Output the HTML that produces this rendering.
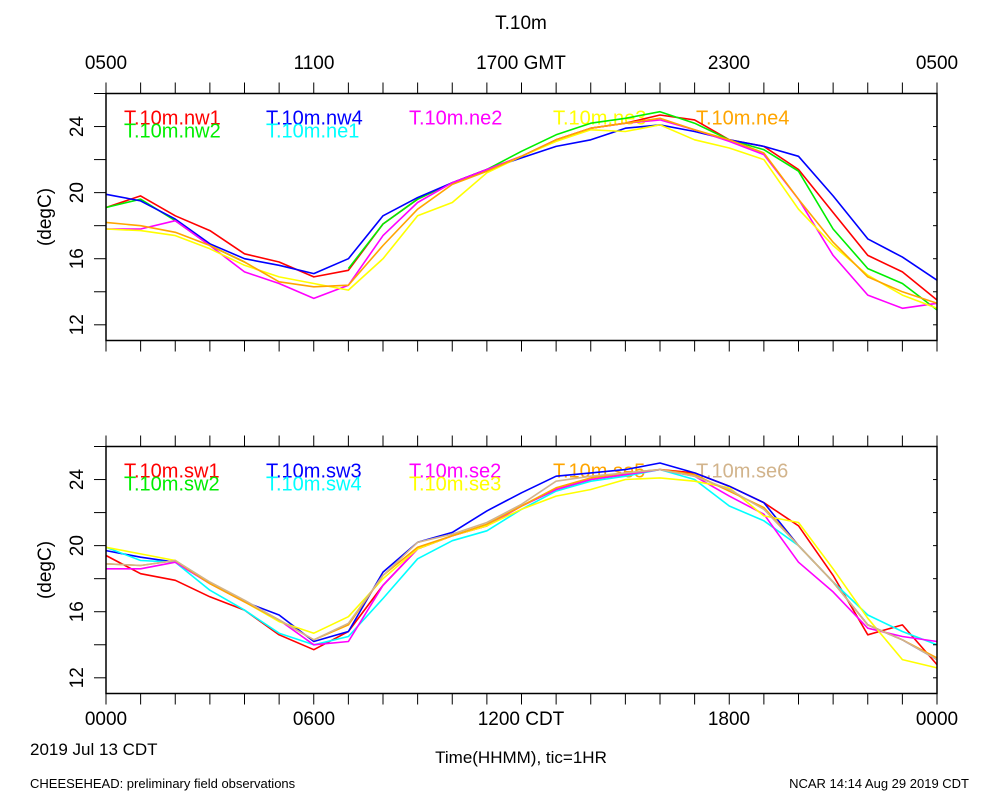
<!DOCTYPE html>
<html><head><meta charset="utf-8"><style>
body{margin:0;background:#fff;}
svg{display:block;font-family:"Liberation Sans",sans-serif;}
</style></head><body>
<svg id="chart" width="1000" height="800">
<text x="521" y="29" font-size="19" text-anchor="middle">T.10m</text>
<g font-size="19" text-anchor="middle">
<text x="106" y="69">0500</text><text x="314" y="69">1100</text><text x="521" y="69">1700 GMT</text><text x="729" y="69">2300</text><text x="937" y="69">0500</text>
</g>
<g font-size="19" text-anchor="middle">
<text x="106" y="725">0000</text><text x="314" y="725">0600</text><text x="521" y="725">1200 CDT</text><text x="729" y="725">1800</text><text x="937" y="725">0000</text>
</g>
<text x="30" y="755" font-size="17">2019 Jul 13 CDT</text>
<text x="521" y="763" font-size="17" text-anchor="middle">Time(HHMM), tic=1HR</text>
<text x="30" y="788" font-size="13">CHEESEHEAD: preliminary field observations</text>
<text x="969" y="788" font-size="13" text-anchor="end">NCAR 14:14 Aug 29 2019 CDT</text>
</svg>
<script>
const hours=[0,1,2,3,4,5,6,7,8,9,10,11,12,13,14,15,16,17,18,19,20,21,22,23,24];
const yTicks=[12,16,20,24];
const topNames=["T.10m.nw1","T.10m.nw2","T.10m.nw4","T.10m.ne1","T.10m.ne2","T.10m.ne3","T.10m.ne4"];
const topLegendSlots=[[0,0],[0,1],[1,0],[1,1],[2,0],[3,0],[4,0]];
const nw1=[19.1,19.8,18.6,17.7,16.3,15.8,14.9,15.3,18.1,19.6,20.6,21.4,22.2,23.2,23.9,24.2,24.7,24.4,23.2,22.8,21.4,18.8,16.2,15.2,13.5];
const nw2=[19.1,19.6,18.3,16.8,15.8,null,null,15.4,18.1,19.6,20.6,21.4,22.5,23.5,24.2,24.5,24.9,24.2,23.2,22.6,21.3,17.8,15.4,14.5,12.9];
const nw4=[19.9,19.5,18.4,16.9,16.0,15.6,15.1,16.0,18.6,19.7,20.6,21.4,22.1,22.8,23.2,23.9,24.1,23.7,23.2,22.8,22.2,19.8,17.2,16.1,14.7];
const ne1=[];
const ne2=[17.8,17.8,18.3,16.8,15.2,14.5,13.6,14.4,17.4,19.4,20.6,21.4,22.2,23.2,23.9,24.2,24.4,23.8,23.1,22.3,19.6,16.2,13.8,13.0,13.3];
const ne3=[17.8,17.7,17.4,16.6,15.6,14.9,14.5,14.1,16.0,18.6,19.4,21.2,22.2,23.1,23.8,23.7,24.1,23.2,22.7,22.0,19.0,16.8,15.0,13.8,13.0];
const ne4=[18.2,18.0,17.6,16.8,15.8,14.6,14.3,14.4,16.8,19.0,20.5,21.3,22.2,23.2,23.9,24.2,24.5,23.8,23.2,22.4,19.6,17.0,14.9,14.0,13.3];
const botNames=["T.10m.sw1","T.10m.sw2","T.10m.sw3","T.10m.sw4","T.10m.se2","T.10m.se3","T.10m.se5","T.10m.se6"];
const botLegendSlots=[[0,0],[0,1],[1,0],[1,1],[2,0],[2,1],[3,0],[4,0]];
const sw1=[19.4,18.3,17.9,16.9,16.1,14.6,13.7,14.8,17.6,19.8,20.6,21.2,22.4,23.4,24.0,24.3,24.6,24.4,23.6,22.6,21.2,18.2,14.6,15.2,12.8];
const sw2=[];
const sw3=[19.7,19.3,19.0,17.7,16.6,15.8,14.2,14.8,18.4,20.2,20.8,22.1,23.2,24.2,24.4,24.6,25.0,24.4,23.6,22.6,20.0,17.8,15.2,14.3,13.1];
const sw4=[19.9,19.1,19.0,17.3,16.1,14.7,14.0,14.5,16.8,19.2,20.3,20.9,22.2,23.3,23.9,24.2,24.6,24.0,22.4,21.5,20.0,17.8,15.8,14.8,14.0];
const se2=[18.6,18.6,19.0,17.7,16.6,15.5,14.0,14.2,17.6,19.8,20.6,21.2,22.4,23.4,24.0,24.3,24.6,24.2,23.0,21.9,19.0,17.2,15.0,14.5,14.2];
const se3=[19.9,19.5,19.1,17.7,16.6,15.4,14.7,15.7,18.0,19.8,20.6,21.2,22.2,23.0,23.4,24.0,24.1,23.9,23.5,21.8,21.4,18.6,15.6,13.1,12.6];
const se5=[18.9,18.8,19.1,17.7,16.6,15.5,14.3,15.2,18.2,19.9,20.6,21.3,22.4,23.5,24.1,24.4,24.6,24.3,23.3,22.3,20.0,17.8,15.2,14.3,13.2];
const se6=[18.9,18.8,19.1,17.8,16.7,15.5,14.3,15.3,18.2,20.2,20.7,21.4,22.5,23.9,24.2,24.4,24.6,24.2,23.4,22.2,20.0,17.8,15.2,14.3,13.1];

const NS="http://www.w3.org/2000/svg";
const svg=document.getElementById('chart');
const X0=106,X1=937,YMIN=11.05,YMAX=26.0;
function mk(tag,attrs,parent){const e=document.createElementNS(NS,tag);for(const k in attrs)e.setAttribute(k,attrs[k]);(parent||svg).appendChild(e);return e;}
function xs(h){return X0+(X1-X0)*h/24;}

function panel(top,bottom,key,names,slots,series,colors){
  const ys=v=>bottom-(bottom-top)*(v-YMIN)/(YMAX-YMIN);
  const g=mk('g',{});
  
  
  const cols=[124,266,409,553,696];
  names.forEach((n,i)=>{
    const t=mk('text',{x:cols[slots[i][0]],y:top+31+slots[i][1]*13,'font-size':20,fill:colors[i]},g);
    t.textContent=n;
    
    
  });
  series.forEach((s,i)=>{
    let d='',pen=false;
    s.forEach((v,j)=>{
      if(v===null||v===undefined){pen=false;return;}
      d+=(pen?'L':'M')+xs(hours[j]).toFixed(1)+' '+ys(v).toFixed(1);pen=true;
    });
    if(!d)return;
    const p=mk('path',{d:d,fill:'none',stroke:colors[i],'stroke-width':1.6,'stroke-linejoin':'round'},g);
    
    
  });
  const r=mk('rect',{x:X0,y:top,width:X1-X0,height:bottom-top,fill:'none',stroke:'#000','stroke-width':1.5},g);
  
  
  for(let h=0;h<=24;h++){
    const x=xs(h);
    mk('line',{x1:x,x2:x,y1:bottom,y2:bottom+11,stroke:'#000','stroke-width':1},g);
    mk('line',{x1:x,x2:x,y1:top,y2:top-11,stroke:'#000','stroke-width':1},g);
  }
  for(let v=12;v<=26;v+=2){
    const y=ys(v);
    mk('line',{x1:X0-12,x2:X0,y1:y,y2:y,stroke:'#000','stroke-width':1},g);
    mk('line',{x1:X1-4,x2:X1,y1:y,y2:y,stroke:'#000','stroke-width':1},g);
  }
  yTicks.forEach(v=>{
    const y=ys(v);
    const t=mk('text',{x:0,y:0,'font-size':19,'text-anchor':'middle',transform:`translate(83 ${y}) rotate(-90)`},g);
    t.textContent=v;
    
    
  });
  const yt=mk('text',{x:0,y:0,'font-size':19,'text-anchor':'middle',transform:`translate(51 ${(top+bottom)/2}) rotate(-90)`},g);
  yt.textContent='(degC)';
  
  
}
panel(93.5,340.5,'top',topNames,topLegendSlots,[nw1,nw2,nw4,ne1,ne2,ne3,ne4],['#ff0000','#00ee00','#0000ff','#00ffff','#ff00ff','#ffff00','#ffa500']);
panel(446.5,693.5,'bottom',botNames,botLegendSlots,[sw1,sw2,sw3,sw4,se2,se3,se5,se6],['#ff0000','#00ee00','#0000ff','#00ffff','#ff00ff','#ffff00','#ffa500','#d2b48c']);
</script>
</body></html>
